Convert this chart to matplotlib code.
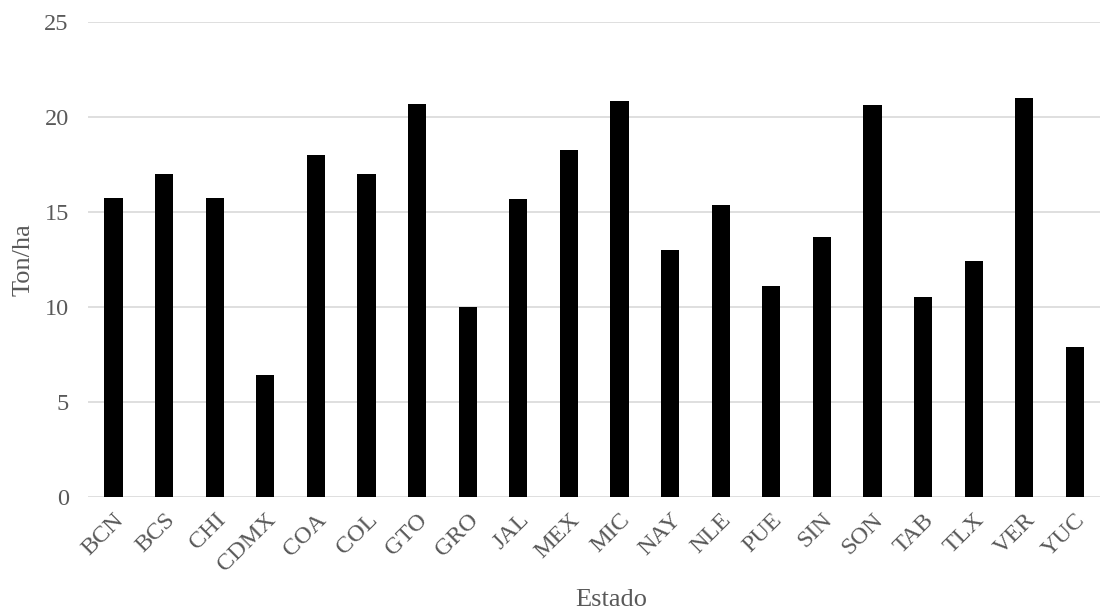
import matplotlib
matplotlib.use('Agg')
import matplotlib.pyplot as plt
import numpy as np

estados = ['BCN', 'BCS', 'CHI', 'CDMX', 'COA', 'COL', 'GTO', 'GRO', 'JAL', 'MEX',
           'MIC', 'NAY', 'NLE', 'PUE', 'SIN', 'SON', 'TAB', 'TLX', 'VER', 'YUC']
rendimiento = [15.74, 17.0, 15.74, 6.4, 18.0, 17.0, 20.68, 10.02, 15.7, 18.28,
               20.84, 13.0, 15.34, 11.12, 13.68, 20.62, 10.5, 12.43, 21.02, 7.9]
yticks = [0, 5, 10, 15, 20, 25]

plt.rcParams['font.family'] = ['Liberation Serif', 'DejaVu Serif']
gris = '#595959'

fig = plt.figure(figsize=(11.17, 6.09), dpi=100)
ax = fig.add_axes([0.079, 0.184, 0.906, 0.78])

x = np.arange(len(estados))
ax.bar(x, rendimiento, width=0.36, color='black', zorder=3)

ax.set_ylim(0, 25)
ax.set_xlim(-0.5, len(estados) - 0.5)
ax.set_yticks(yticks)
ax.set_xticks(x)
ax.set_xticklabels(estados, rotation=45, ha='right', rotation_mode='anchor')
ax.tick_params(axis='both', length=0, labelsize=17.5, colors=gris)
ax.tick_params(axis='y', pad=14)
ax.tick_params(axis='x', pad=9)
ax.grid(axis='y', color='#d9d9d9', linewidth=1.2, zorder=0)
for s in ax.spines.values():
    s.set_visible(False)

ax.set_ylabel('Ton/ha', fontsize=19, color=gris, va='center')
ax.yaxis.set_label_coords(-0.064, 0.5)
ax.set_xlabel('Estado', fontsize=19, color=gris, va='center')
ax.xaxis.set_label_coords(0.517, -0.216)

fig.savefig('out.png', dpi=100)
